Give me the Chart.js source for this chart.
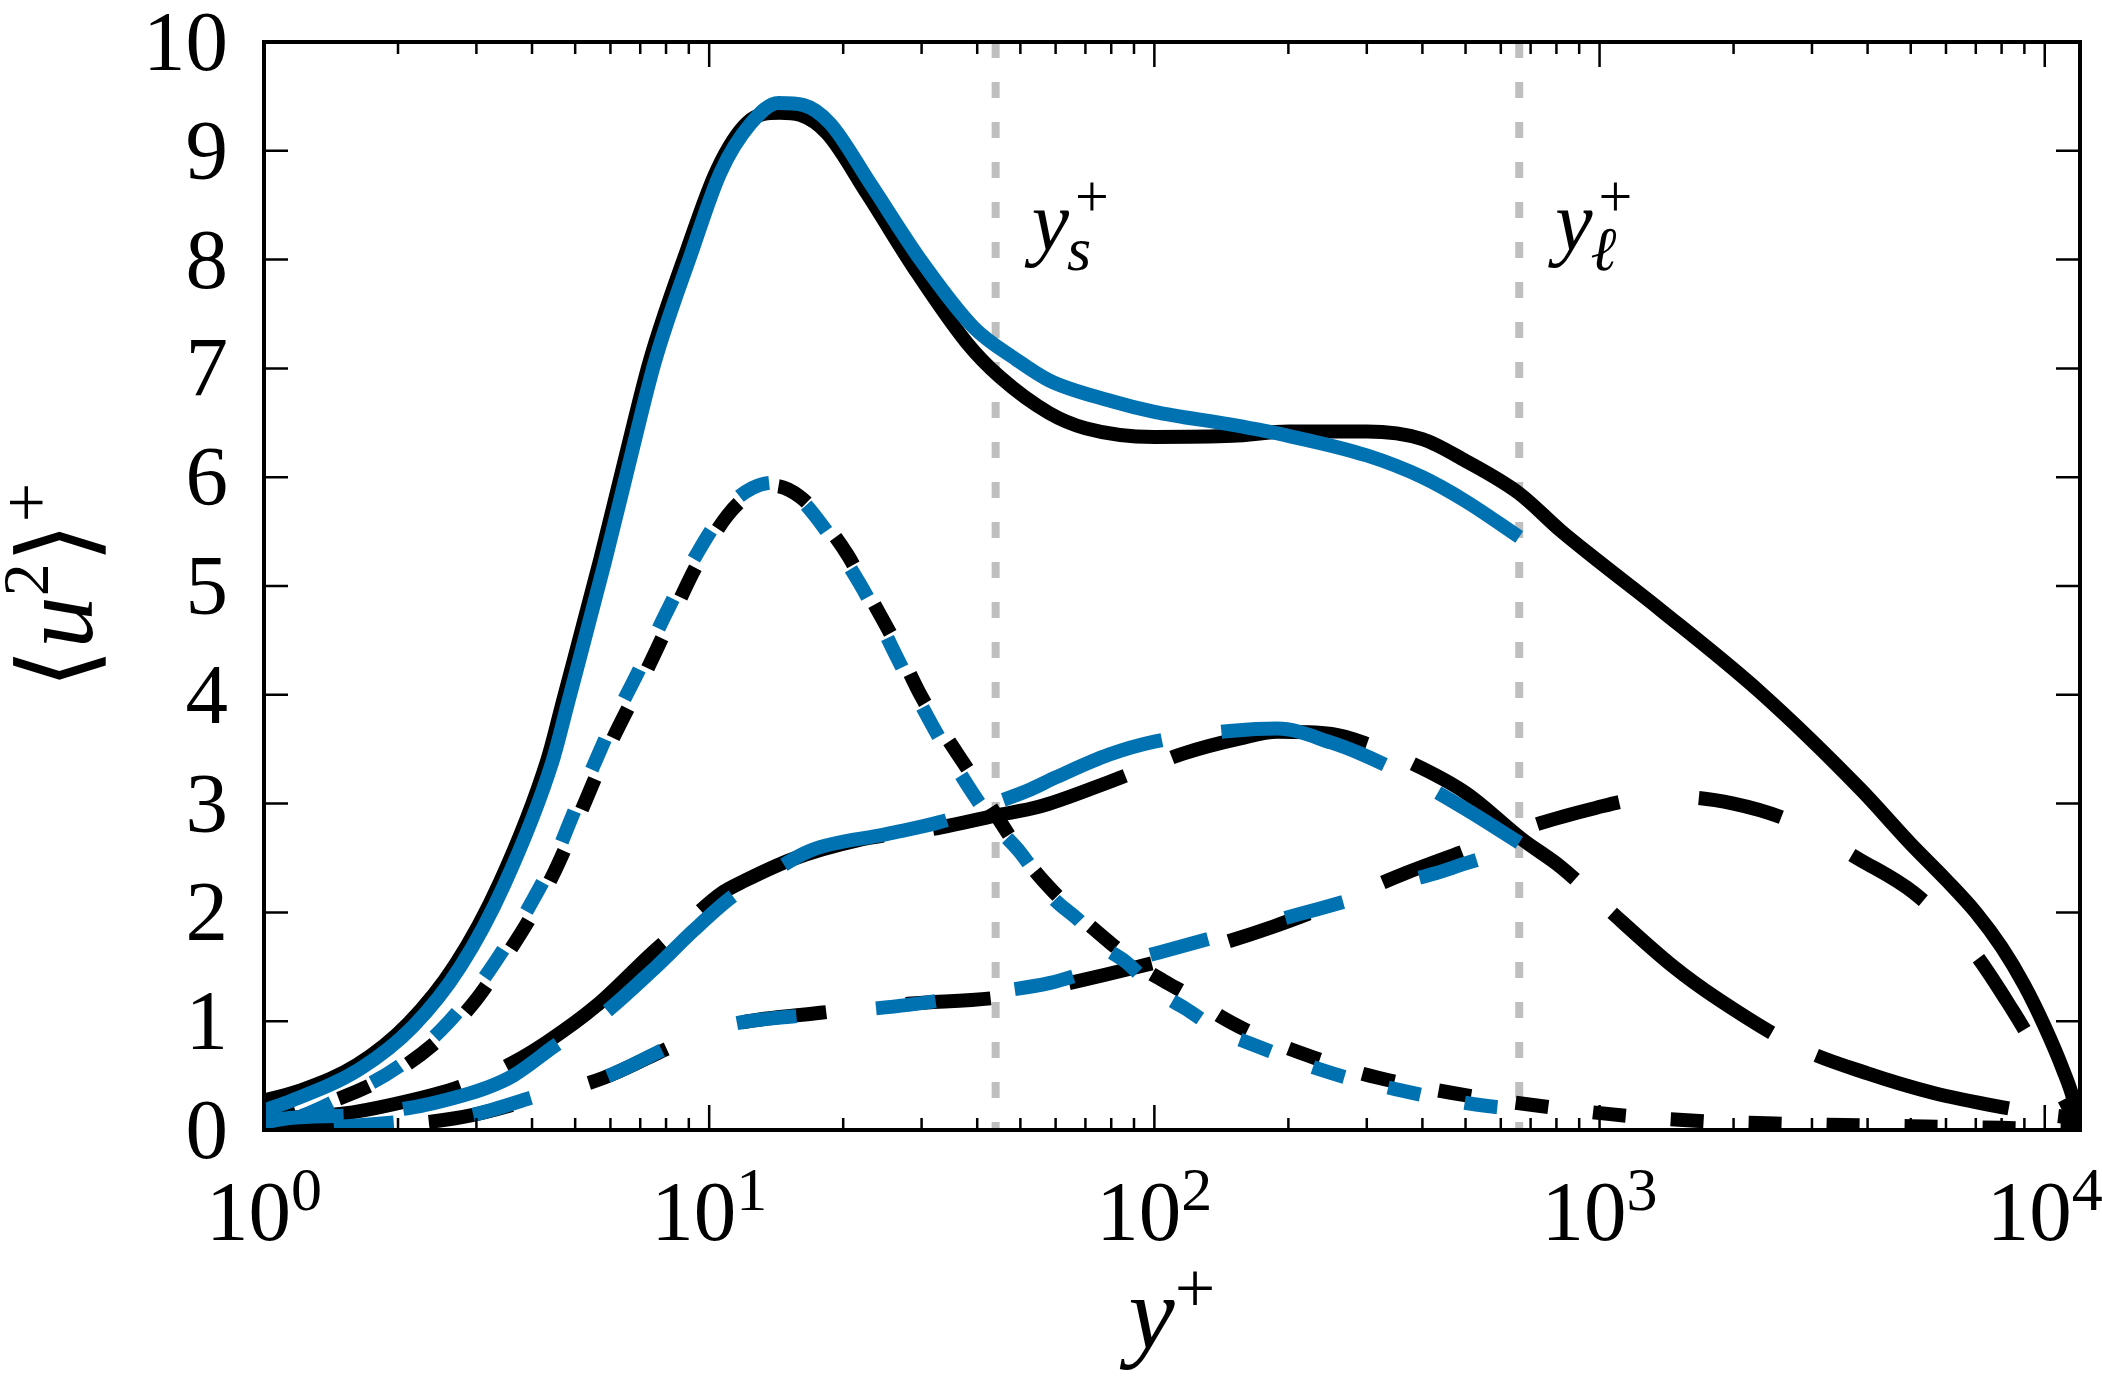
<!DOCTYPE html>
<html>
<head>
<meta charset="utf-8">
<title>u2 profile</title>
<script src="https://cdn.jsdelivr.net/npm/chart.js@4.4.1/dist/chart.umd.min.js"></script>
<style>
  html, body { margin: 0; padding: 0; background: #fff; overflow: hidden; }
  #wrap { width: 2102px; height: 1380px; position: relative; }
</style>
</head>
<body>
<div id="wrap"><canvas id="chart"></canvas></div>
<script>
// values: y+ positions and <u^2>+ levels
// total, black (full range) and blue (ends at y_l+)
const totalKX = [1, 1.22, 1.62, 2.11, 2.69, 3.39, 4.33, 4.7, 5.69, 6.5, 7.37, 8.92, 10.4, 12.2, 14.4, 16, 18.4, 22.6, 29.3, 38, 45, 58, 70, 100, 150, 200, 300, 400, 500, 660, 817, 1000, 1371, 2300, 3860, 5000, 6000, 7000, 8000, 9000, 10000, 11000, 11600, 12000];
const totalKY = [0.27, 0.37, 0.6, 0.98, 1.52, 2.28, 3.4, 3.95, 5.24, 6.2, 7.08, 8.09, 8.82, 9.26, 9.35, 9.33, 9.16, 8.61, 7.88, 7.23, 6.92, 6.59, 6.45, 6.37, 6.38, 6.42, 6.42, 6.35, 6.15, 5.85, 5.51, 5.22, 4.78, 4.02, 3.13, 2.63, 2.3, 2.0, 1.68, 1.33, 0.95, 0.55, 0.28, 0];
const totalBX = [1, 1.12, 1.64, 2.16, 2.76, 3.47, 4.44, 4.82, 5.83, 6.66, 7.55, 9.14, 10.6, 12.4, 14.3, 16.3, 18.7, 23, 29.8, 39.2, 49, 58, 80, 100, 150, 200, 300, 400, 500, 660];
const totalBY = [0.18, 0.25, 0.56, 0.95, 1.5, 2.26, 3.38, 3.93, 5.22, 6.18, 7.06, 8.07, 8.8, 9.25, 9.44, 9.42, 9.25, 8.7, 8.0, 7.38, 7.08, 6.89, 6.7, 6.6, 6.48, 6.38, 6.2, 6.0, 5.78, 5.45];

// small scales (short dashes)
const smallKX = [1, 1.2, 1.5, 2, 2.5, 3, 3.5, 4, 4.5, 5, 5.5, 6, 7, 8, 9.4, 11, 12.5, 14, 16, 18, 20.5, 23, 26, 30, 34, 39, 44, 52, 59, 68, 78, 93, 105, 124, 140, 170, 200, 242, 280, 370, 535, 773, 1150, 1715, 2480, 3560, 5000, 8000, 12000];
const smallKY = [0.08, 0.18, 0.3, 0.55, 0.85, 1.2, 1.6, 1.98, 2.38, 2.8, 3.2, 3.55, 4.1, 4.6, 5.2, 5.65, 5.86, 5.92, 5.82, 5.6, 5.28, 4.9, 4.5, 3.98, 3.62, 3.25, 2.9, 2.46, 2.2, 1.96, 1.75, 1.5, 1.37, 1.2, 1.05, 0.87, 0.75, 0.63, 0.54, 0.42, 0.3, 0.21, 0.13, 0.08, 0.06, 0.045, 0.035, 0.02, 0];
const smallBX = [1, 1.2, 1.5, 2, 2.5, 3, 3.5, 4, 4.5, 5, 5.5, 6, 7, 8, 9.4, 11, 12.5, 14, 16, 18, 20.5, 23, 26, 30, 34, 39, 44, 50, 59, 68, 76, 86, 102, 117, 142, 163, 200, 230, 282, 327, 437, 560, 660];
const smallBY = [0.03, 0.12, 0.3, 0.58, 0.92, 1.3, 1.7, 2.1, 2.5, 2.95, 3.35, 3.7, 4.25, 4.75, 5.3, 5.72, 5.9, 5.95, 5.8, 5.55, 5.2, 4.85, 4.4, 3.9, 3.5, 3.1, 2.8, 2.55, 2.14, 1.92, 1.7, 1.55, 1.27, 1.12, 0.9, 0.8, 0.66, 0.57, 0.46, 0.4, 0.29, 0.22, 0.19];

// intermediate scales (long dashes)
const midKX = [1, 1.5, 1.92, 2.76, 3.63, 4.33, 5.57, 7.5, 9.05, 10.6, 12, 15.4, 21.4, 33, 44, 55, 77, 100, 116, 156, 189, 250, 300, 357, 500, 671, 817, 1000, 1466, 1850, 2830, 4000, 5630, 8000, 10150, 11870, 12000];
const midKY = [0.1, 0.15, 0.23, 0.4, 0.62, 0.81, 1.14, 1.64, 1.93, 2.17, 2.29, 2.49, 2.66, 2.78, 2.89, 2.97, 3.18, 3.36, 3.46, 3.6, 3.66, 3.64, 3.55, 3.42, 3.1, 2.67, 2.42, 2.1, 1.5, 1.2, 0.75, 0.52, 0.34, 0.21, 0.14, 0.05, 0];
const midBX = [1, 1.14, 1.64, 2.1, 2.36, 3.17, 3.63, 4.6, 5.4, 7.6, 9.2, 11.3, 13, 16.9, 25, 33, 40.6, 52, 60, 79, 100, 150, 189, 250, 290, 376, 500, 660];
const midBY = [0.07, 0.11, 0.14, 0.2, 0.24, 0.39, 0.5, 0.8, 0.97, 1.5, 1.83, 2.15, 2.3, 2.57, 2.72, 2.83, 2.96, 3.12, 3.24, 3.45, 3.57, 3.67, 3.69, 3.56, 3.46, 3.24, 2.95, 2.64];

// large scales (medium dashes)
const largeKX = [1, 2, 2.8, 4.3, 5.8, 8.6, 11, 18, 28, 45, 58, 92, 121, 185, 242, 366, 487, 736, 980, 1200, 1520, 2000, 2645, 3860, 5080, 6820, 8470, 10000, 11000, 12000];
const largeKY = [0, 0.05, 0.12, 0.32, 0.48, 0.8, 0.96, 1.08, 1.16, 1.22, 1.31, 1.5, 1.63, 1.87, 2.05, 2.36, 2.55, 2.82, 2.96, 3.04, 3.06, 3.0, 2.85, 2.48, 2.18, 1.67, 1.1, 0.6, 0.3, 0];
const largeBX = [1, 1.25, 2.1, 2.8, 4.24, 5.78, 8.5, 10.6, 18, 28, 44, 58, 77, 102, 157, 210, 322, 357, 428, 500, 660];
const largeBY = [0, 0.01, 0.08, 0.12, 0.33, 0.48, 0.8, 0.95, 1.07, 1.15, 1.27, 1.35, 1.5, 1.63, 1.84, 1.98, 2.2, 2.27, 2.36, 2.45, 2.6];

// y_s+ and y_l+ markers, axis ticks
const markerX = [44, 660];
const xDecades = [1, 10, 100, 1000, 10000];
const yTicks = [0, 1, 2, 3, 4, 5, 6, 7, 8, 9, 10];

const BLUE = '#0072b2';
const GREY = '#bfbfbf';
const SERIF = '"Liberation Serif", "Times New Roman", serif';

function pts(xs, ys) {
    return xs.map((x, i) => ({ x: x, y: ys[i] }));
}

function line(xs, ys, color, dash, offset, order) {
    return {
        data: pts(xs, ys),
        borderColor: color,
        borderWidth: 14,
        borderDash: dash,
        borderDashOffset: offset,
        borderJoinStyle: 'round',
        pointRadius: 0,
        cubicInterpolationMode: 'monotone',
        fill: false,
        order: order
    };
}

const datasets = [
    line(totalKX, totalKY, '#000', [], 0, 2),
    line(smallKX, smallKY, '#000', [33, 45], 0, 2),
    line(midKX, midKY, '#000', [200, 50], 0, 2),
    line(largeKX, largeKY, '#000', [85, 80], 0, 2),
    line(totalBX, totalBY, BLUE, [], 0, 1),
    line(smallBX, smallBY, BLUE, [33, 45], 39, 1),
    line(midBX, midBY, BLUE, [170, 60], 90, 1),
    line(largeBX, largeBY, BLUE, [60, 80], 70, 1)
];
markerX.forEach(m => {
    datasets.push({
        data: [{ x: m, y: 10 }, { x: m, y: 0 }],
        borderColor: GREY,
        borderWidth: 8,
        borderDash: [16, 24],
        pointRadius: 0,
        order: 3
    });
});

// draw a run of text pieces with their own fonts and baseline shifts
function rich(ctx, parts, x, y) {
    parts.forEach(p => {
        ctx.font = p.font;
        ctx.fillText(p.t, x, y + (p.dy || 0));
        x += ctx.measureText(p.t).width;
    });
}

const frame = {
    id: 'frame',
    afterDatasetsDraw(chart) {
        const { ctx, chartArea: a, scales } = chart;
        const xs = scales.x, ys = scales.y;
        ctx.save();
        ctx.strokeStyle = '#000';
        ctx.fillStyle = '#000';

        // inward ticks on all four sides
        ctx.lineWidth = 2.5;
        ctx.beginPath();
        yTicks.forEach(v => {
            const py = ys.getPixelForValue(v);
            ctx.moveTo(a.left, py); ctx.lineTo(a.left + 24, py);
            ctx.moveTo(a.right, py); ctx.lineTo(a.right - 24, py);
        });
        xDecades.forEach(d => {
            for (let m = 1; m <= 9; m++) {
                const v = d * m;
                if (v < xs.min || v > xs.max) continue;
                const px = xs.getPixelForValue(v);
                const len = m === 1 ? 25 : 12;
                ctx.moveTo(px, a.bottom); ctx.lineTo(px, a.bottom - len);
                ctx.moveTo(px, a.top); ctx.lineTo(px, a.top + len);
            }
        });
        ctx.stroke();

        ctx.lineWidth = 4;
        ctx.strokeRect(a.left, a.top, a.right - a.left, a.bottom - a.top);

        // y tick labels
        ctx.font = '85px ' + SERIF;
        ctx.textAlign = 'right';
        ctx.textBaseline = 'alphabetic';
        yTicks.forEach(v => {
            ctx.fillText(String(v), a.left - 36, ys.getPixelForValue(v) + 28);
        });

        // x tick labels 10^n
        ctx.textAlign = 'left';
        xDecades.forEach(d => {
            const px = xs.getPixelForValue(d);
            const ex = String(Math.round(Math.log10(d)));
            ctx.font = '85px ' + SERIF;
            const wb = ctx.measureText('10').width;
            ctx.font = '62px ' + SERIF;
            const we = ctx.measureText(ex).width;
            rich(ctx, [
                { t: '10', font: '85px ' + SERIF },
                { t: ex, font: '62px ' + SERIF, dy: -30 }
            ], px - (wb + we) / 2, a.bottom + 110);
        });

        // x title y+
        ctx.font = 'italic 104px ' + SERIF;
        const wy = ctx.measureText('y').width;
        ctx.font = '72px ' + SERIF;
        const wp = ctx.measureText('+').width;
        rich(ctx, [
            { t: 'y', font: 'italic 104px ' + SERIF },
            { t: '+', font: '72px ' + SERIF, dy: -36 }
        ], (a.left + a.right) / 2 - (wy + wp) / 2, 1348);

        // y title <u^2>+
        ctx.save();
        ctx.translate(92, (a.top + a.bottom) / 2);
        ctx.rotate(-Math.PI / 2);
        const yparts = [
            { t: '\u27E8', font: '104px ' + SERIF },
            { t: 'u', font: 'italic 104px ' + SERIF },
            { t: '2', font: '66px ' + SERIF, dy: -44 },
            { t: '\u27E9', font: '104px ' + SERIF },
            { t: '+', font: '70px ' + SERIF, dy: -42 }
        ];
        let tw = 0;
        yparts.forEach(p => { ctx.font = p.font; tw += ctx.measureText(p.t).width; });
        rich(ctx, yparts, -tw / 2, 0);
        ctx.restore();

        // marker labels y_s+ and y_l+
        ['s', '\u2113'].forEach((sub, i) => {
            const x0 = xs.getPixelForValue(markerX[i]) + 36;
            ctx.font = 'italic 84px ' + SERIF;
            const w = ctx.measureText('y').width;
            ctx.fillText('y', x0, 250);
            ctx.font = 'italic 62px ' + SERIF;
            ctx.fillText(sub, x0 + w - 2, 270);
            ctx.font = '60px ' + SERIF;
            ctx.fillText('+', x0 + w + 6, 216);
        });

        ctx.restore();
    }
};

new Chart(document.getElementById('chart'), {
    type: 'line',
    data: { datasets: datasets },
    options: {
        responsive: true,
        maintainAspectRatio: false,
        animation: false,
        layout: { padding: { top: 42, right: 22, left: 0, bottom: 0 } },
        plugins: {
            legend: { display: false },
            tooltip: { enabled: false }
        },
        scales: {
            x: {
                type: 'logarithmic',
                min: 1,
                max: 12000,
                ticks: { display: false },
                grid: { display: false },
                border: { display: false },
                afterFit(s) { s.height = 250; }
            },
            y: {
                min: 0,
                max: 10,
                ticks: { display: false, stepSize: 1 },
                grid: { display: false },
                border: { display: false },
                afterFit(s) { s.width = 264; }
            }
        }
    },
    plugins: [frame]
});
</script>
</body>
</html>
